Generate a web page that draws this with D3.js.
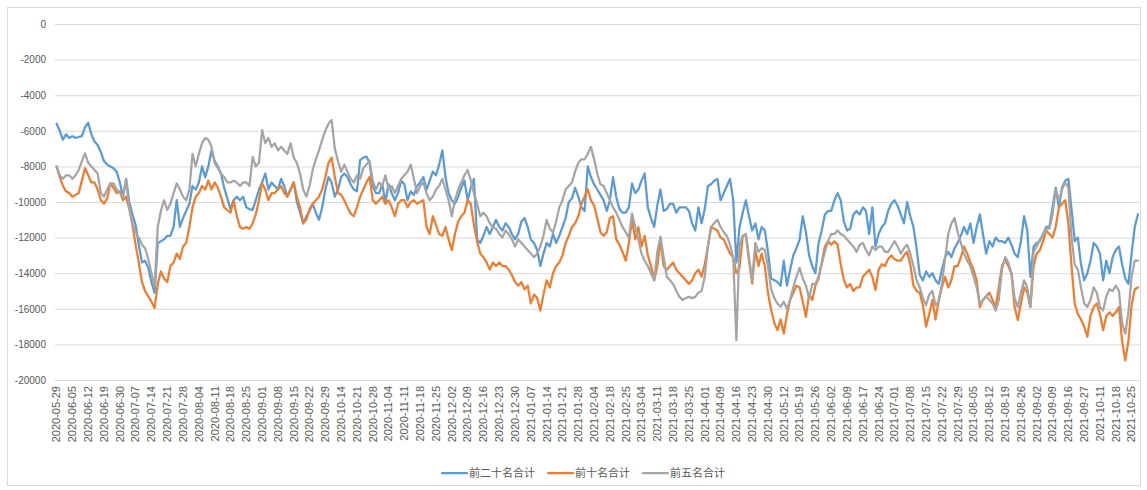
<!DOCTYPE html>
<html><head><meta charset="utf-8">
<script src="https://cdn.jsdelivr.net/npm/d3@7/dist/d3.min.js"></script>
<style>body{margin:0;background:#fff}svg{display:block}</style>
</head><body>
<svg id="chart" width="1147" height="490"></svg>
<script>
const tickLabels = ["2020-05-29","2020-06-05","2020-06-12","2020-06-19","2020-06-30","2020-07-07","2020-07-14","2020-07-21","2020-07-28","2020-08-04","2020-08-11","2020-08-18","2020-08-25","2020-09-01","2020-09-08","2020-09-15","2020-09-22","2020-09-29","2020-10-14","2020-10-21","2020-10-28","2020-11-04","2020-11-11","2020-11-18","2020-11-25","2020-12-02","2020-12-09","2020-12-16","2020-12-23","2020-12-30","2021-01-07","2021-01-14","2021-01-21","2021-01-28","2021-02-04","2021-02-18","2021-02-25","2021-03-04","2021-03-11","2021-03-18","2021-03-25","2021-04-01","2021-04-09","2021-04-16","2021-04-23","2021-04-30","2021-05-12","2021-05-19","2021-05-26","2021-06-02","2021-06-09","2021-06-17","2021-06-24","2021-07-01","2021-07-08","2021-07-15","2021-07-22","2021-07-29","2021-08-05","2021-08-12","2021-08-19","2021-08-26","2021-09-02","2021-09-09","2021-09-16","2021-09-27","2021-10-11","2021-10-18","2021-10-25"];

const yTicks = [0,-2000,-4000,-6000,-8000,-10000,-12000,-14000,-16000,-18000,-20000];

const seriesNames = ["前二十名合计","前十名合计","前五名合计"];

const top20 = [
-5600,-6000,-6500,-6200,-6400,-6300,-6400,-6350,-6300,-5800,
-5550,-6200,-6600,-6800,-7200,-7700,-7900,-8000,-8100,-8300,
-8900,-9700,-8700,-10000,-10700,-11300,-12400,-13400,-13300,-13700,
-14500,-15100,-12300,-12200,-12100,-11900,-11900,-11400,-9900,-11400,
-10900,-10500,-10100,-9100,-9300,-8900,-8000,-8600,-8000,-7100,
-7700,-8000,-8400,-9200,-9800,-10400,-9900,-9700,-9900,-9700,
-10300,-10400,-10450,-9900,-9300,-8900,-8400,-9300,-8900,-9100,
-9300,-8700,-9100,-9700,-9300,-8900,-10000,-10600,-11200,-10800,
-10500,-10100,-10600,-11000,-10300,-9300,-8600,-8900,-9700,-9300,
-8600,-8400,-8600,-9000,-9300,-9400,-7650,-7500,-7450,-7800,
-9100,-9500,-9500,-9000,-10000,-9000,-9500,-9900,-9500,-8800,
-9000,-9900,-9400,-9600,-9100,-8900,-8600,-9300,-8800,-8300,
-8500,-7900,-7100,-8600,-9500,-9900,-10100,-9700,-9200,-8800,
-9900,-9200,-8700,-12100,-12300,-11900,-11400,-11800,-11400,-11000,
-11400,-11600,-11200,-11400,-11800,-12100,-11800,-11100,-10900,-11400,
-12100,-12300,-12700,-13600,-12900,-12300,-12500,-11800,-12300,-11900,
-11400,-10900,-10000,-9800,-9200,-9700,-10300,-10500,-8000,-8600,
-9000,-9300,-9600,-9900,-10500,-9900,-8600,-9700,-10400,-10600,
-10600,-10300,-8950,-9500,-9300,-8800,-8400,-10300,-10900,-11400,
-10200,-9300,-10500,-10400,-10100,-10100,-10600,-10300,-10300,-10300,
-10500,-11200,-11600,-10300,-11200,-10400,-9100,-9000,-8800,-8700,
-9900,-9500,-9100,-8700,-9900,-13400,-11400,-10600,-9900,-10800,
-11600,-11200,-12100,-11400,-11600,-12800,-14300,-14400,-14500,-14700,
-13300,-14700,-13800,-13000,-12600,-12100,-10800,-11700,-13000,-13600,
-14000,-12300,-11600,-10700,-10500,-10500,-9900,-9500,-9900,-11100,
-11600,-11500,-10700,-10500,-10700,-10300,-10500,-11800,-10300,-12500,
-11800,-11400,-11200,-10500,-10100,-9900,-10200,-10700,-11200,-10000,
-10800,-11400,-12600,-14100,-14400,-13900,-14200,-14000,-14400,-14600,
-13800,-13100,-12800,-13100,-12600,-12300,-11900,-11400,-11800,-11200,
-12300,-11400,-10700,-11800,-12900,-12200,-12500,-12000,-12200,-12200,
-12300,-12000,-12400,-12900,-13100,-12200,-10800,-11600,-14200,-12500,
-12300,-12200,-11800,-11400,-11400,-10300,-9200,-10300,-9200,-8800,
-8700,-10400,-12200,-12000,-13500,-14400,-14000,-13300,-12300,-12500,
-12900,-14400,-13300,-14000,-13100,-12700,-12500,-13500,-14300,-14600,
-12900,-11400,-10700];

const top10 = [
-8000,-8600,-9100,-9400,-9500,-9700,-9600,-9500,-8800,-8100,
-8500,-8900,-8900,-9300,-9900,-10100,-9800,-8950,-9200,-9500,
-9400,-9900,-9700,-10400,-11300,-12400,-13400,-14500,-15000,-15300,
-15600,-15950,-14600,-13900,-14300,-14500,-13600,-13400,-12900,-13200,
-12500,-12300,-11400,-10300,-9700,-9500,-9100,-9300,-8800,-9300,
-8900,-9200,-9700,-10300,-10450,-10600,-9900,-10800,-11400,-11500,
-11400,-11500,-11200,-10700,-9900,-8950,-9300,-9900,-9500,-9500,
-9300,-9100,-9500,-9700,-9300,-8900,-9700,-10300,-11200,-11000,
-10400,-10100,-9900,-9700,-9300,-8600,-7800,-7500,-8600,-9500,
-9600,-9900,-10300,-10640,-10800,-10300,-9700,-9300,-8900,-8580,
-9900,-10100,-9900,-9700,-10100,-9900,-10300,-10800,-10100,-9900,
-9900,-10300,-10000,-9900,-10100,-10000,-9900,-11400,-11800,-10800,
-11300,-11800,-11900,-11400,-12100,-12700,-11800,-11100,-10800,-10600,
-9900,-10100,-11300,-12200,-12900,-13100,-13400,-13800,-13400,-13600,
-13400,-13600,-13600,-13800,-14100,-14500,-14700,-14500,-14900,-14700,
-15700,-15200,-15400,-16100,-15200,-14400,-14800,-14000,-13600,-13400,
-13000,-12300,-11900,-11400,-11200,-10800,-10100,-9700,-9300,-9900,
-10200,-10900,-11700,-11900,-11700,-10900,-10800,-12100,-12400,-12800,
-13300,-12300,-11000,-12100,-11400,-12500,-11900,-13000,-13600,-14400,
-13600,-12100,-13600,-13800,-13600,-13400,-13800,-14000,-14200,-14400,
-14600,-14400,-14000,-13800,-14200,-13500,-12500,-11400,-11500,-11600,
-12000,-12100,-12500,-12900,-13100,-14000,-13700,-11950,-11800,-13300,
-14580,-12700,-13600,-12900,-13600,-15100,-16070,-16800,-17200,-16600,
-17390,-16300,-15500,-15100,-14700,-14800,-15600,-16450,-15200,-15500,
-14700,-14300,-13400,-12500,-12200,-12400,-12200,-12400,-13500,-14390,
-14800,-14600,-15000,-14800,-14800,-14200,-14000,-13800,-14200,-14950,
-13800,-13500,-13600,-13200,-13000,-13200,-13300,-13300,-13000,-12800,
-13500,-14700,-15000,-15100,-15800,-17000,-16300,-15500,-16600,-15500,
-14800,-14200,-14800,-14400,-13600,-13600,-13100,-12500,-12900,-13400,
-13800,-14400,-15900,-15500,-15300,-15100,-15500,-15900,-14800,-13600,
-13260,-13600,-14000,-15900,-16630,-15700,-14800,-15100,-15900,-13600,
-12900,-12700,-12200,-11600,-11800,-12000,-11400,-10300,-10100,-9900,
-11200,-13600,-15700,-16300,-16600,-17000,-17570,-16400,-15900,-15700,
-16300,-17200,-16400,-16200,-16400,-16200,-15900,-17800,-18900,-17800,
-15800,-14900,-14800];

const top5 = [
-8000,-8500,-8700,-8500,-8500,-8700,-8500,-8200,-7700,-7270,
-7800,-8000,-8200,-8400,-9500,-9700,-9300,-8950,-8950,-9300,
-9500,-9700,-8770,-10300,-11200,-11700,-12000,-12400,-12600,-13200,
-14000,-14760,-11400,-10500,-9900,-10450,-10100,-9500,-8950,-9300,
-9700,-9900,-9300,-7300,-8000,-7300,-6700,-6400,-6500,-6900,
-7800,-8100,-8400,-8600,-8900,-8900,-8800,-8900,-9100,-8900,
-8900,-9100,-7460,-8000,-7800,-5960,-6700,-6400,-6900,-6700,
-7100,-6900,-7100,-7300,-6700,-7500,-7800,-8400,-9300,-9700,
-9100,-8200,-7600,-7100,-6500,-6000,-5600,-5400,-7000,-7700,
-8300,-7900,-8300,-8700,-8900,-8500,-8700,-8100,-7900,-7700,
-8800,-9300,-8900,-9100,-8500,-9300,-9100,-9500,-9100,-8700,
-8500,-8300,-7900,-8700,-9500,-9100,-8900,-9500,-9900,-9700,
-9300,-9100,-8700,-9300,-9900,-10800,-9900,-9300,-8900,-8500,
-8200,-8800,-9500,-10100,-10800,-10600,-10800,-11200,-11400,-11500,
-11800,-12000,-11600,-11800,-12100,-12500,-12100,-12300,-12500,-12700,
-12900,-13100,-12900,-12500,-11900,-11000,-11500,-11700,-11100,-10300,
-9900,-9300,-9100,-8900,-8300,-7800,-7600,-7600,-7300,-6900,
-7600,-8400,-9000,-9100,-9500,-9900,-10300,-10600,-11000,-11400,
-11700,-12000,-10640,-11400,-12100,-12900,-13300,-13600,-14000,-14400,
-12800,-11950,-13100,-14200,-14400,-14600,-15000,-15330,-15500,-15400,
-15330,-15400,-15330,-15100,-15000,-14200,-12500,-11400,-11200,-11000,
-11400,-11700,-11900,-12400,-13100,-17760,-12400,-11900,-11800,-13100,
-14400,-12300,-12800,-12600,-12700,-13600,-14900,-15400,-15700,-15890,
-15600,-16000,-15500,-14800,-14200,-13700,-14300,-14700,-15400,-14600,
-14600,-14200,-13500,-12800,-12200,-11800,-11800,-11600,-11800,-11900,
-12100,-12300,-12500,-12800,-12400,-12300,-12700,-13000,-12500,-12700,
-12500,-12500,-12800,-12800,-12500,-12200,-12500,-12900,-12600,-12400,
-12900,-13600,-14400,-14800,-15400,-15800,-15200,-15000,-15800,-15600,
-14600,-13200,-11800,-11200,-10900,-11700,-12300,-12900,-13300,-13600,
-14200,-14800,-15700,-15500,-15300,-15500,-15700,-16100,-15500,-13800,
-13100,-13400,-14000,-15400,-15900,-15100,-14400,-14800,-15900,-12800,
-12500,-12100,-11900,-11500,-11500,-10700,-9300,-9900,-9300,-8900,
-9200,-12000,-13500,-13800,-14800,-15700,-15900,-15500,-14800,-15100,
-15900,-16100,-15300,-14900,-15000,-14700,-15000,-16800,-17400,-16200,
-14200,-13300,-13300];

const colors = ["#5B9BD5","#ED7D31","#A5A5A5"];
const series = [top20, top10, top5];
const N = top20.length;

const svg = d3.select("#chart");
const left = 55, right = 1139.5, topY = 24, bottomY = 380;

// chart area border
svg.append("rect").attr("x",7.5).attr("y",7.5).attr("width",1133).attr("height",478)
  .attr("fill","none").attr("stroke","#D9D9D9").attr("stroke-width",1);

const x = d3.scaleBand().domain(d3.range(N)).range([left, right]);
const cx = i => x(i) + x.bandwidth()/2;
const y = d3.scaleLinear().domain([-20000, 0]).range([bottomY, topY]);

// gridlines + y labels
const yAxis = d3.axisLeft(y).tickValues(yTicks).tickSize(-(right-left)).tickPadding(9)
  .tickFormat(d => String(d));
const gy = svg.append("g").attr("transform",`translate(${left},0)`).call(yAxis);
gy.select(".domain").remove();
gy.selectAll(".tick line").attr("stroke","#D9D9D9").attr("stroke-width",1);
gy.selectAll(".tick text").attr("fill","#595959").style("font-family","'Liberation Sans', Arial, sans-serif").style("font-size","10px");

// x labels
const tickIdx = tickLabels.map((d,k) => k*5);
const xAxis = d3.axisBottom(x).tickValues(tickIdx).tickSize(0).tickFormat(i => tickLabels[i/5]);
const gx = svg.append("g").attr("transform",`translate(0,${bottomY})`).call(xAxis);
gx.select(".domain").remove();
gx.selectAll(".tick text")
  .attr("fill","#595959")
  .style("font-family","'Liberation Sans', Arial, sans-serif").style("font-size","11px")
  .attr("text-anchor","end")
  .attr("transform","translate(0,6) rotate(-90)")
  .attr("x",0).attr("y",0).attr("dy","0.35em");

// lines
const line = d3.line().x((d,i) => cx(i)).y(d => y(d)).curve(d3.curveLinear);
series.forEach((s,k) => {
  svg.append("path").datum(s).attr("d", line).attr("fill","none")
    .attr("stroke", colors[k]).attr("stroke-width", 2.25)
    .attr("stroke-linejoin","round").attr("stroke-linecap","round");
});

// legend
const legendX = [442, 548, 643];
const lg = svg.append("g");
seriesNames.forEach((n,k) => {
  const g = lg.append("g").attr("transform",`translate(${legendX[k]},473)`);
  g.append("line").attr("x1",0).attr("x2",25).attr("y1",0).attr("y2",0)
    .attr("stroke",colors[k]).attr("stroke-width",2.25).attr("stroke-linecap","round");
  g.append("text").attr("x",27).attr("y",0).attr("dy","0.35em").text(n)
    .attr("fill","#595959").style("font-family","'Noto Sans CJK SC', sans-serif").style("font-size","11px");
});
</script>
</body></html>
